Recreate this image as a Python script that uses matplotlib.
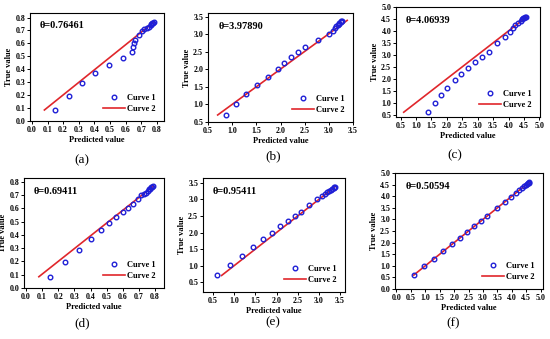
import matplotlib
matplotlib.use("Agg")
import matplotlib.pyplot as plt

plt.rcParams['font.family'] = ['Liberation Serif', 'DejaVu Serif']

# ---- data ----
theta_labels = ["θ=0.76461", "θ=3.97890", "θ=4.06939", "θ=0.69411", "θ=0.95411", "θ=0.50594"]
panel_names = ["(a)", "(b)", "(c)", "(d)", "(e)", "(f)"]

a_pred = [0.15, 0.235, 0.32, 0.405, 0.495, 0.58, 0.64, 0.645, 0.65, 0.66, 0.685, 0.705, 0.72, 0.735, 0.75, 0.76, 0.765, 0.77, 0.775, 0.78]
a_true = [0.085, 0.195, 0.29, 0.37, 0.435, 0.49, 0.535, 0.57, 0.60, 0.63, 0.665, 0.695, 0.71, 0.72, 0.73, 0.74, 0.75, 0.755, 0.76, 0.765]
a_line_x = [0.08, 0.78]
a_line_y = [0.085, 0.765]

b_pred = [0.87, 1.08, 1.29, 1.52, 1.74, 1.95, 2.08, 2.22, 2.36, 2.50, 2.78, 3.00, 3.08, 3.12, 3.15, 3.18, 3.20, 3.22, 3.25, 3.26, 3.27]
b_true = [0.71, 1.01, 1.30, 1.56, 1.79, 2.00, 2.19, 2.35, 2.50, 2.63, 2.84, 3.00, 3.10, 3.18, 3.23, 3.27, 3.30, 3.33, 3.35, 3.37, 3.38]
b_line_x = [0.70, 3.38]
b_line_y = [0.70, 3.40]

c_pred = [1.40, 1.60, 1.80, 2.02, 2.25, 2.47, 2.68, 2.92, 3.15, 3.37, 3.62, 3.88, 4.05, 4.15, 4.22, 4.32, 4.40, 4.45, 4.48, 4.50, 4.52, 4.55]
c_true = [0.62, 0.97, 1.30, 1.62, 1.93, 2.20, 2.45, 2.70, 2.92, 3.13, 3.48, 3.76, 3.97, 4.13, 4.25, 4.35, 4.42, 4.48, 4.52, 4.56, 4.58, 4.60]
c_line_x = [0.60, 4.60]
c_line_y = [0.60, 4.60]

d_pred = [0.15, 0.245, 0.33, 0.40, 0.465, 0.515, 0.56, 0.60, 0.635, 0.66, 0.695, 0.715, 0.73, 0.745, 0.755, 0.765, 0.77, 0.775, 0.78, 0.785]
d_true = [0.085, 0.195, 0.29, 0.37, 0.435, 0.49, 0.535, 0.575, 0.605, 0.635, 0.67, 0.70, 0.71, 0.72, 0.735, 0.745, 0.75, 0.76, 0.765, 0.77]
d_line_x = [0.08, 0.79]
d_line_y = [0.085, 0.77]

e_pred = [0.60, 0.90, 1.19, 1.45, 1.69, 1.90, 2.09, 2.27, 2.43, 2.58, 2.78, 2.95, 3.07, 3.15, 3.20, 3.25, 3.29, 3.32, 3.35, 3.37, 3.38]
e_true = [0.70, 1.01, 1.30, 1.56, 1.79, 2.00, 2.19, 2.35, 2.50, 2.63, 2.84, 3.00, 3.10, 3.18, 3.23, 3.27, 3.30, 3.33, 3.35, 3.37, 3.38]
e_line_x = [0.70, 3.37]
e_line_y = [0.70, 3.37]

f_pred = [0.60, 0.97, 1.30, 1.62, 1.93, 2.20, 2.45, 2.70, 2.92, 3.13, 3.48, 3.76, 3.97, 4.13, 4.25, 4.35, 4.42, 4.48, 4.52, 4.56, 4.58, 4.60]
f_true = [0.60, 0.97, 1.30, 1.62, 1.93, 2.20, 2.45, 2.70, 2.92, 3.13, 3.48, 3.76, 3.97, 4.13, 4.25, 4.35, 4.42, 4.48, 4.52, 4.56, 4.58, 4.60]
f_line_x = [0.60, 4.60]
f_line_y = [0.60, 4.60]

xticks_small = [0.0, 0.1, 0.2, 0.3, 0.4, 0.5, 0.6, 0.7, 0.8]
ticks_35 = [0.5, 1.0, 1.5, 2.0, 2.5, 3.0, 3.5]
ticks_50a = [0.5, 1.0, 1.5, 2.0, 2.5, 3.0, 3.5, 4.0, 4.5, 5.0]
ticks_50b = [0.0, 0.5, 1.0, 1.5, 2.0, 2.5, 3.0, 3.5, 4.0, 4.5, 5.0]

W, H = 550, 339
fig = plt.figure(figsize=(5.5, 3.39), dpi=100)

# pixel boxes (x0, y0, x1, y1)
boxes = [(30, 13, 164, 121), (208, 13, 353, 122), (396, 7, 540, 117),
         (24, 178, 164, 288), (203, 178, 345, 292), (395, 173, 543, 289)]
label_pos = [(82, 160), (273, 156), (455, 155), (82, 323), (273, 322), (453, 323)]

panels = [
    (a_pred, a_true, a_line_x, a_line_y, (-0.012, 0.845), (0.0, 0.835), xticks_small, xticks_small),
    (b_pred, b_true, b_line_x, b_line_y, (0.5, 3.5), (0.5, 3.61), ticks_35, ticks_35),
    (c_pred, c_true, c_line_x, c_line_y, (0.35, 5.02), (0.4, 5.0), ticks_50a, ticks_50a),
    (d_pred, d_true, d_line_x, d_line_y, (-0.012, 0.855), (0.0, 0.83), xticks_small, xticks_small),
    (e_pred, e_true, e_line_x, e_line_y, (0.26, 3.62), (0.2, 3.65), ticks_35, ticks_35),
    (f_pred, f_true, f_line_x, f_line_y, (-0.05, 5.08), (0.0, 5.0), ticks_50b, ticks_50b),
]

blue = '#1f1fd6'
red = '#e0262b'

for i, (px, ty, lx, ly, xl, yl, xt, yt) in enumerate(panels):
    x0, y0, x1, y1 = boxes[i]
    ax = fig.add_axes([x0 / W, 1 - y1 / H, (x1 - x0) / W, (y1 - y0) / H])
    ax.plot(px, ty, 'o', ms=3.3, mfc='none', mec=blue, mew=1.0, label='Curve 1', zorder=3)
    ax.plot(lx, ly, '-', color=red, lw=1.2, label='Curve 2', zorder=2)
    ax.set_xlim(*xl)
    ax.set_ylim(*yl)
    ax.set_xticks(xt)
    ax.set_yticks(yt)
    ax.set_xticklabels([f"{v:.1f}" for v in xt])
    ax.set_yticklabels([f"{v:.1f}" for v in yt])
    ax.tick_params(direction='out', length=2, width=0.7, labelsize=5.7, pad=1.5)
    for lab in ax.get_xticklabels() + ax.get_yticklabels():
        lab.set_fontweight('bold')
    for s in ax.spines.values():
        s.set_linewidth(0.8)
    ax.set_xlabel('Predicted value', fontsize=6.0, fontweight='bold', labelpad=1.5)
    ax.set_ylabel('True value', fontsize=6.0, fontweight='bold', labelpad=1.5)
    ax.text(0.07, 0.88, theta_labels[i], transform=ax.transAxes, fontsize=7.5,
            fontweight='bold', ha='left', va='center')
    leg = ax.legend(loc='lower right', frameon=False, fontsize=6.0, handlelength=2.6,
                    handletextpad=0.3, borderaxespad=0.6, labelspacing=0.3)
    for t in leg.get_texts():
        t.set_fontweight('bold')
    lx_, ly_ = label_pos[i]
    fig.text(lx_ / W, 1 - ly_ / H, panel_names[i], fontsize=9.5, ha='center', va='center')

fig.savefig('out.png', dpi=100)
